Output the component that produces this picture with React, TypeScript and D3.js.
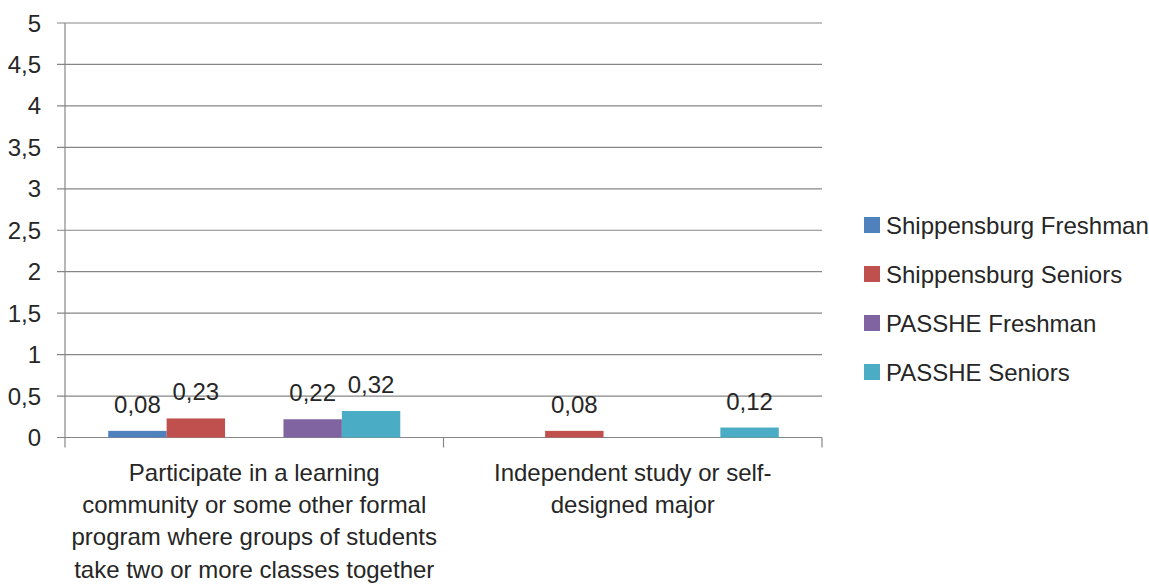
import React from "react";
import * as d3 from "d3";

// Chart data
const categories: string[][] = [
  [
    "Participate in a learning",
    "community or some other formal",
    "program where groups of students",
    "take two or more classes together",
  ],
  ["Independent study or self-", "designed major"],
];

// Bar slots per category; the empty slot keeps Excel-like spacing between the two pairs
const slots = ["Shippensburg Freshman", "Shippensburg Seniors", "", "PASSHE Freshman", "PASSHE Seniors"];
const seriesNames = ["Shippensburg Freshman", "Shippensburg Seniors", "PASSHE Freshman", "PASSHE Seniors"];
const seriesColors = ["#4F81BD", "#C0504D", "#8064A2", "#4BACC6"];

const shipFreshman: (number | null)[] = [0.08, null];
const shipSeniors: (number | null)[] = [0.23, 0.08];
const passheFreshman: (number | null)[] = [0.22, null];
const passheSeniors: (number | null)[] = [0.32, 0.12];

const seriesValues = [shipFreshman, shipSeniors, passheFreshman, passheSeniors];

const yTicks = [0, 0.5, 1, 1.5, 2, 2.5, 3, 3.5, 4, 4.5, 5];

const W = 1149;
const H = 584;
const FONT = "'Liberation Sans', Arial, sans-serif";
const TEXT = "#262626";
const GRID = "#868686";
const FS = 24;

const fmt = (v: number) => String(v).replace(".", ",");

export default function App() {
  const left = 65;
  const right = 822;
  const top = 23;
  const bottom = 437.5;

  const y = d3.scaleLinear().domain([0, 5]).range([bottom, top]);
  const x0 = d3
    .scaleBand<number>()
    .domain(categories.map((_, i) => i))
    .range([left, right]);
  const x1 = d3
    .scaleBand<string>()
    .domain(slots)
    .range([0, x0.bandwidth()])
    .paddingInner(0)
    .paddingOuter(0.74);

  return (
    <svg
      width={W}
      height={H}
      style={{ position: "absolute", left: 0, top: 0, background: "#fff" }}
      fontFamily={FONT}
    >
      {/* gridlines and y labels */}
      {yTicks.map((t) => (
        <g key={t}>
          <line x1={left - 8} x2={right} y1={y(t)} y2={y(t)} stroke={GRID} strokeWidth={1.2} />
          <text x={41} y={y(t) + 8.5} textAnchor="end" fontSize={FS} fill={TEXT}>
            {fmt(t)}
          </text>
        </g>
      ))}
      {/* y axis */}
      <line x1={left} x2={left} y1={top} y2={bottom + 10} stroke={GRID} strokeWidth={1.2} />
      {/* category ticks */}
      {categories.map((_, i) => (
        <line
          key={i}
          x1={(x0(i) ?? 0) + x0.bandwidth()}
          x2={(x0(i) ?? 0) + x0.bandwidth()}
          y1={bottom}
          y2={bottom + 10}
          stroke={GRID}
          strokeWidth={1.2}
        />
      ))}
      {/* bars and value labels */}
      {categories.map((_, ci) =>
        seriesNames.map((name, si) => {
          const v = seriesValues[si][ci];
          if (v == null) return null;
          const bx = (x0(ci) ?? 0) + (x1(name) ?? 0);
          const bw = x1.bandwidth();
          return (
            <g key={`${ci}-${si}`}>
              <rect x={bx} y={y(v)} width={bw} height={bottom - y(v)} fill={seriesColors[si]} />
              <text x={bx + bw / 2} y={y(v) - 18} textAnchor="middle" fontSize={FS} fill={TEXT}>
                {fmt(v)}
              </text>
            </g>
          );
        })
      )}
      {/* category labels */}
      {categories.map((lines, ci) => {
        const cx = (x0(ci) ?? 0) + x0.bandwidth() / 2;
        return (
          <text key={ci} x={cx} y={481} textAnchor="middle" fontSize={FS} fill={TEXT}>
            {lines.map((l, li) => (
              <tspan key={li} x={cx} y={481 + li * 32.2}>
                {l}
              </tspan>
            ))}
          </text>
        );
      })}
      {/* legend */}
      {seriesNames.map((name, i) => (
        <g key={name} transform={`translate(864, ${225 + i * 49})`}>
          <rect x={0} y={-8} width={16} height={16} fill={seriesColors[i]} />
          <text x={22} y={8.5} fontSize={FS} fill={TEXT}>
            {name}
          </text>
        </g>
      ))}
    </svg>
  );
}
